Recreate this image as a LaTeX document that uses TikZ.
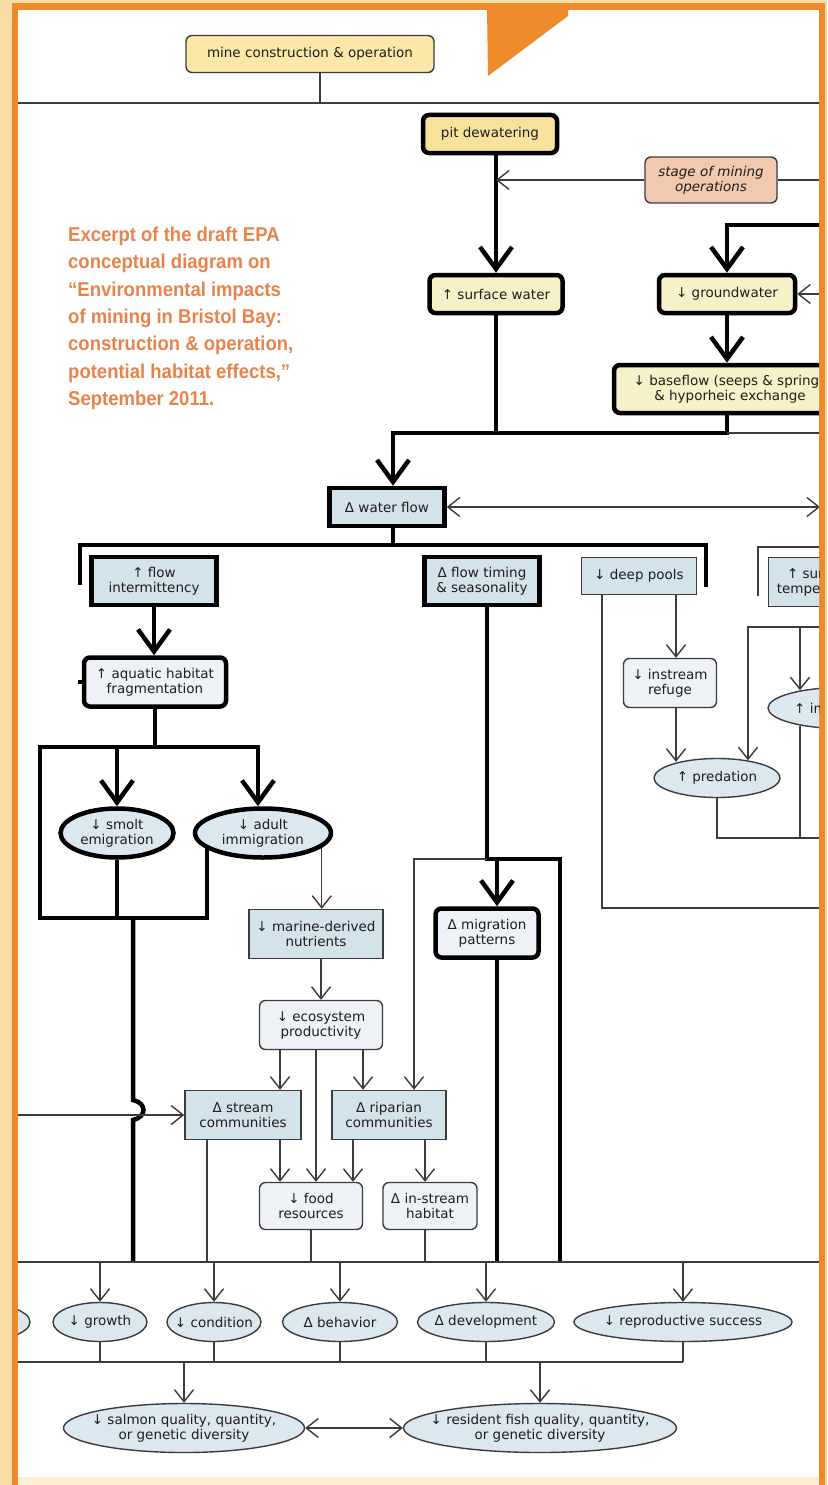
\documentclass[tikz,border=0pt]{standalone}
\usepackage{fontspec}
\usetikzlibrary{arrows.meta,shapes.geometric}
\newfontfamily\dgfont{DejaVu Sans}
\newfontfamily\arfont[FakeStretch=0.925]{Liberation Sans}
\definecolor{tanbg}{HTML}{F8DCA6}
\definecolor{orng}{HTML}{EE8A2A}
\definecolor{creambot}{HTML}{FCEFD3}
\definecolor{yelA}{HTML}{FBE8A6}
\definecolor{yelB}{HTML}{F7E29B}
\definecolor{cream}{HTML}{F7F1C9}
\definecolor{peach}{HTML}{F0C9AE}
\definecolor{lblue}{HTML}{D2E3EC}
\definecolor{lbluetwo}{HTML}{DCE8EF}
\definecolor{vlight}{HTML}{EEF2F7}
\definecolor{txt}{HTML}{1E1E1E}
\definecolor{lc}{HTML}{3C3C3C}
\definecolor{otext}{HTML}{E9834C}
\tikzset{
  lab/.style={font=\dgfont\fontsize{13.5}{15}\selectfont, text=txt, align=center, inner sep=0pt},
  tkb/.style={lab, draw=black, line width=4.5pt},
  tnb/.style={lab, draw=lc, line width=1.4pt},
  rbox/.style={rounded corners=6pt},
  ell/.style={ellipse},
  etext/.style={label={[lab]center:{#1}}},
  tk/.style={draw=black, line width=4.5pt},
  tl/.style={draw=lc, line width=1.4pt},
  bigarr/.style={-{Straight Barb[length=22pt,width=32pt]}},
  smarr/.style={-{Straight Barb[length=12pt,width=19pt]}},
  smarrtwo/.style={{Straight Barb[length=12pt,width=19pt]}-{Straight Barb[length=12pt,width=19pt]}},
}
\begin{document}
\begin{tikzpicture}[x=1pt,y=-1pt]
\useasboundingbox (0,0) rectangle (827,1485);
% frame
\fill[tanbg] (0,0) rectangle (827,1485);
\fill[orng] (12,3) rectangle (825,1485);
\fill[white] (18,10) rectangle (819,1477);
\fill[creambot] (18,1477) rectangle (819,1485);
\fill[orng] (487,8) -- (568,8) -- (568,16) -- (488,76) -- cycle;

\begin{scope}
\clip (18,10) rectangle (819,1477);
% helper coordinates
\coordinate (eL) at (18,0);
\coordinate (eR) at (820,0);
\foreach \xv in {207,280,316,353,363,425,487,497,602,676,748,758,800}
  \coordinate (x\xv) at (\xv,0);

% nodes
\node[tnb, rbox, fill=yelA, minimum width=248pt, minimum height=37pt] (mine) at (310,54) {mine construction \& operation};
\node[tkb, rbox, fill=yelB, minimum width=134pt, minimum height=38pt] (pit) at (490,134) {pit dewatering};
\node[tnb, rbox, fill=peach, minimum width=132pt, minimum height=46pt, font=\dgfont\itshape\fontsize{13.5}{15}\selectfont] (stage) at (711,180) {stage of mining\\operations};
\node[tkb, rbox, fill=cream, minimum width=133pt, minimum height=38pt] (sw) at (496,294) {↑ surface water};
\node[tkb, rbox, fill=cream, minimum width=136pt, minimum height=38pt] (gw) at (727,294) {↓ groundwater};
\node[tkb, rbox, fill=cream, minimum width=232pt, minimum height=48pt] (bf) at (730,389) {↓ baseflow (seeps \& springs\\\& hyporheic exchange};
\node[tkb, fill=lblue, minimum width=115pt, minimum height=38pt] (wf) at (387,507) {Δ water flow};
\node[tkb, fill=lblue, minimum width=125pt, minimum height=48pt] (fi) at (154,581) {↑ flow\\intermittency};
\node[tkb, fill=lblue, minimum width=115pt, minimum height=48pt] (ft) at (482,581) {Δ flow timing\\\& seasonality};
\node[tnb, fill=lblue, minimum width=115pt, minimum height=37pt] (dp) at (639,576) {↓ deep pools};
\node[tnb, fill=lblue, minimum width=108pt, minimum height=49pt, anchor=west] (st) at (768,582) {↑ summer\\temperatures};
\node[tnb, ell, fill=lbluetwo, minimum width=148pt, minimum height=41pt, etext={↑ interactions}] (intE) at (842,708) {};
\node[tkb, rbox, fill=vlight, minimum width=142pt, minimum height=49pt] (ahf) at (155,682) {↑ aquatic habitat\\fragmentation};
\node[tkb, ell, fill=lbluetwo, minimum width=113pt, minimum height=49pt, etext={↓ smolt\\emigration}] (smolt) at (117,833) {};
\node[tkb, ell, fill=lbluetwo, minimum width=136pt, minimum height=49pt, etext={↓ adult\\immigration}] (adult) at (263,833) {};
\node[tnb, fill=lblue, minimum width=134pt, minimum height=49pt] (mdn) at (316,934) {↓ marine-derived\\nutrients};
\node[tkb, rbox, fill=vlight, minimum width=103pt, minimum height=49pt] (mig) at (487,933) {Δ migration\\patterns};
\node[tnb, rbox, fill=vlight, minimum width=123pt, minimum height=49pt] (eco) at (321,1025) {↓ ecosystem\\productivity};
\node[tnb, fill=lblue, minimum width=116pt, minimum height=49pt] (stc) at (243,1115) {Δ stream\\communities};
\node[tnb, fill=lblue, minimum width=114pt, minimum height=49pt] (rip) at (389,1115) {Δ riparian\\communities};
\node[tnb, rbox, fill=vlight, minimum width=103pt, minimum height=47pt] (food) at (311,1206) {↓ food\\resources};
\node[tnb, rbox, fill=vlight, minimum width=94pt, minimum height=47pt] (ish) at (430,1206) {Δ in-stream\\habitat};
\node[tnb, rbox, fill=vlight, minimum width=93pt, minimum height=49pt] (ir) at (670,683) {↓ instream\\refuge};
\node[tnb, ell, fill=lbluetwo, minimum width=126pt, minimum height=39pt, etext={↑ predation}] (pred) at (717,778) {};
\node[tnb, ell, fill=lbluetwo, minimum width=110pt, minimum height=39pt] (e0) at (-25,1322) {};
\node[tnb, ell, fill=lbluetwo, minimum width=94pt, minimum height=39pt, etext={↓ growth}] (growth) at (100,1322) {};
\node[tnb, ell, fill=lbluetwo, minimum width=94pt, minimum height=39pt, etext={↓ condition}] (cond) at (214,1322) {};
\node[tnb, ell, fill=lbluetwo, minimum width=115pt, minimum height=39pt, etext={Δ behavior}] (beh) at (340,1322) {};
\node[tnb, ell, fill=lbluetwo, minimum width=137pt, minimum height=39pt, etext={Δ development}] (dev) at (486,1322) {};
\node[tnb, ell, fill=lbluetwo, minimum width=218pt, minimum height=39pt, etext={↓ reproductive success}] (rep) at (683,1322) {};
\node[tnb, ell, fill=lbluetwo, minimum width=241pt, minimum height=49pt, etext={↓ salmon quality, quantity,\\or genetic diversity}] (salmon) at (184,1428) {};
\node[tnb, ell, fill=lbluetwo, minimum width=273pt, minimum height=49pt, etext={↓ resident fish quality, quantity,\\or genetic diversity}] (resid) at (540,1428) {};

% top connectors
\coordinate (m1) at (320,103);
\draw[tl] (eL |- m1) -- (eR |- m1);
\draw[tl] (m1 |- mine.south) -- (m1);
\draw[tk,bigarr] (sw.north |- pit.south) -- (sw.north);
\draw[tl,smarr] (stage.west) -- (stage.west -| sw.north);
\draw[tl] (stage.east) -- (stage.east -| eR);
\coordinate (g1) at (822,225);
\draw[tk,bigarr] (g1) -| (gw.north);
\draw[tl,smarr] (gw.east -| eR) -- (gw.east);
\draw[tk,bigarr] (gw.south) -- (gw.south |- bf.north);
\coordinate (j1) at (393,433);
\draw[tk] (sw.south) -- (sw.south |- j1);
\draw[tk,bigarr] (gw.south |- bf.south) -- (gw.south |- j1) -- (j1) -- (j1 |- wf.north);
\draw[tl] (gw.south |- j1) -- (eR |- j1);
\draw[tl,smarrtwo] (wf.east) -- (wf.east -| eR);
% water flow split
\coordinate (j2) at (393,545);
\coordinate (s1) at (80,585);
\coordinate (s2) at (706,587);
\draw[tk] (j1 |- wf.south) -- (j2);
\draw[tk] (s1) -- (s1 |- j2) -- (s2 |- j2) -- (s2);
% fragmentation
\draw[tk,bigarr] (fi.south) -- (fi.south |- ahf.north);
\draw[tk] (ahf.west) -- ++(-4,0);
\coordinate (k1) at (40,747);
\coordinate (k2) at (258,747);
\coordinate (k3) at (40,918);
\coordinate (k5) at (133,918);
\draw[tk] (ahf.south) -- (ahf.south |- k1);
\draw[tk,bigarr] (adult.196) -- (adult.196 |- k3) -- (k3) -- (k1) -- (k2) -- (k2 |- adult.north);
\draw[tk,bigarr] (smolt.north |- k1) -- (smolt.north);
\draw[tk] (smolt.south) -- (smolt.south |- k3);
\coordinate (b1) at (133,1100);
\coordinate (b2) at (133,1120);
\coordinate (bc1) at (147,1103);
\coordinate (bc2) at (147,1117);
\coordinate (hb) at (0,1262);
\draw[tk] (k5) -- (b1) .. controls (bc1) and (bc2) .. (b2) -- (b2 |- hb);
% nutrients chain
\draw[tl,smarr] (adult.-14) -- (adult.-14 |- mdn.north);
\draw[tl,smarr] (mdn.south -| eco.north) -- (eco.north);
\draw[tl,smarr] (x280 |- eco.south) -- (x280 |- stc.north);
\draw[tl,smarr] (x316 |- eco.south) -- (x316 |- food.north);
\draw[tl,smarr] (x363 |- eco.south) -- (x363 |- rip.north);
\draw[tl,smarr] (x280 |- stc.south) -- (x280 |- food.north);
\draw[tl,smarr] (x353 |- rip.south) -- (x353 |- food.north);
\draw[tl,smarr] (x425 |- rip.south) -- (x425 |- ish.north);
\draw[tl,smarr] (eL |- stc.west) -- (stc.west);
% flow timing
\coordinate (q0) at (414,859);
\coordinate (q1) at (487,859);
\coordinate (q2) at (560,859);
\draw[tk] (x487 |- ft.south) -- (q1) -- (q2) -- (q2 |- hb);
\draw[tl,smarr] (q1) -- (q0) -- (q0 |- rip.north);
\draw[tk,bigarr] (x497 |- q1) -- (x497 |- mig.north);
\draw[tk] (x497 |- mig.south) -- (x497 |- hb);
\draw[tl] (x207 |- stc.south) -- (x207 |- hb);
\draw[tl] (food.south) -- (food.south |- hb);
\draw[tl] (x425 |- ish.south) -- (x425 |- hb);
\draw[tl] (eL |- hb) -- (eR |- hb);
% deep pools side
\coordinate (r1) at (602,908);
\draw[tl] (x602 |- dp.south) -- (r1) -- (eR |- r1);
\draw[tl,smarr] (x676 |- dp.south) -- (x676 |- ir.north);
\draw[tl,smarr,shorten >=-4pt] (x676 |- ir.south) -- (x676 |- pred.north);
\coordinate (t1) at (748,627);
\coordinate (p1) at (717,838);
\coordinate (u1) at (758,596);
\coordinate (u2) at (758,547);
\draw[tl,smarr,shorten >=-2.5pt] (eR |- t1) -- (t1) -- (t1 |- pred.north);
\draw[tl,smarr,shorten >=-3.5pt] (x800 |- t1) -- (x800 |- intE.north);
\draw[tl,shorten <=-3.5pt] (x800 |- intE.south) -- (x800 |- p1);
\draw[tl] (pred.south) -- (pred.south |- p1) -- (eR |- p1);
\draw[tl] (u1) -- (u2) -- (eR |- u2);
% bottom rows
\coordinate (hc) at (0,1362);
\foreach \n in {growth,cond,beh,dev,rep}{
  \draw[tl,smarr] (\n.north |- hb) -- (\n.north);
  \draw[tl] (\n.south) -- (\n.south |- hc);
}
\draw[tl] (eL |- hc) -- (rep.south |- hc);
\draw[tl,smarr] (salmon.north |- hc) -- (salmon.north);
\draw[tl,smarr] (resid.north |- hc) -- (resid.north);
\draw[tl,smarrtwo] (salmon.east) -- (resid.west);
\end{scope}

\node[anchor=north west, align=left, inner sep=0pt, text=otext,
      font=\arfont\bfseries\fontsize{20}{27.3}\selectfont] (note) at (68,227)
  {Excerpt of the draft EPA\\conceptual diagram on\\“Environmental impacts\\of mining in Bristol Bay:\\construction \& operation,\\potential habitat effects,”\\September 2011.};
\end{tikzpicture}
\end{document}
